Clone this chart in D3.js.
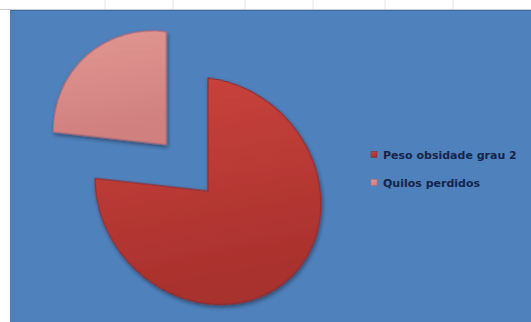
<!DOCTYPE html>
<html><head><meta charset="utf-8">
<script src="https://cdn.jsdelivr.net/npm/d3@7"></script>
<style>html,body{margin:0;padding:0;background:#fff;}svg{display:block;}</style>
</head><body>
<svg id="c" width="531" height="322"></svg>
<script>
const categories = ["Peso obsidade grau 2", "Quilos perdidos"];
const values = [75, 25];
const explode = [0, 59];

const svg = d3.select("#c");
const W = 531, H = 322;
const defs = svg.append("defs");

function grad(id, c1, c2) {
  const g = defs.append("linearGradient").attr("id", id)
    .attr("x1", 0).attr("y1", 0).attr("x2", 0.3).attr("y2", 1);
  g.append("stop").attr("offset", "0%").attr("stop-color", c1);
  g.append("stop").attr("offset", "100%").attr("stop-color", c2);
}
grad("g0", "#cc453e", "#a8302d");
grad("g1", "#e39a94", "#d0807f");
const sh = defs.append("filter").attr("id", "sh").attr("x", "-20%").attr("y", "-20%").attr("width", "140%").attr("height", "140%");
sh.append("feGaussianBlur").attr("in", "SourceAlpha").attr("stdDeviation", 2);
sh.append("feOffset").attr("dx", 1).attr("dy", 2).attr("result", "b");
sh.append("feComponentTransfer").append("feFuncA").attr("type", "linear").attr("slope", 0.45);
const fm = sh.append("feMerge");
fm.append("feMergeNode");
fm.append("feMergeNode").attr("in", "SourceGraphic");

// spreadsheet strip
svg.append("rect").attr("x", 0).attr("y", 0).attr("width", W).attr("height", H).attr("fill", "#ffffff");
[105, 173, 245, 313, 385, 453].forEach(x => {
  svg.append("line").attr("x1", x).attr("x2", x).attr("y1", 0).attr("y2", 10).attr("stroke", "#e4e6ea");
});
svg.append("line").attr("x1", 0).attr("x2", W).attr("y1", 9.5).attr("y2", 9.5).attr("stroke", "#c9ccd2");
// chart area
svg.append("rect").attr("x", 10).attr("y", 10).attr("width", W - 10).attr("height", H - 10).attr("fill", "#4f81bd");
svg.append("line").attr("x1", 10).attr("x2", W).attr("y1", 10.5).attr("y2", 10.5).attr("stroke", "#3d6a9f");

const cx = 208, cy = 191, r = 113;
const pie = d3.pie().sort(null).value(d => d)(values);
const arc = d3.arc().innerRadius(0).outerRadius(r);
const g = svg.append("g").attr("transform", `translate(${cx},${cy}) skewY(6.4)`);
g.selectAll("path").data(pie).join("path")
  .attr("transform", (d, i) => {
    const a = (d.startAngle + d.endAngle) / 2;
    return `translate(${explode[i] * Math.sin(a)},${-explode[i] * Math.cos(a)})`;
  })
  .attr("d", arc)
  .attr("fill", (d, i) => `url(#g${i})`)
  .attr("stroke", (d, i) => i === 0 ? "#8a2a2e" : "#b86a72")
  .attr("stroke-width", 1)
  .attr("filter", "url(#sh)");

// legend
const lg = svg.append("g").attr("transform", "translate(371,155)");
const items = lg.selectAll("g").data(categories).join("g")
  .attr("transform", (d, i) => `translate(0,${i * 28})`);
items.append("rect").attr("x", 0).attr("y", -3.5).attr("width", 6).attr("height", 6)
  .attr("fill", (d, i) => `url(#g${i})`).attr("stroke", (d, i) => i === 0 ? "#8a2a2e" : "#b86a72").attr("stroke-width", 0.5);
items.append("text").attr("x", 12).attr("y", 0).attr("dy", "0.35em")
  .attr("font-family", "DejaVu Sans, sans-serif").attr("font-weight", "bold").attr("font-size", "11px")
  .attr("fill", "#16244a").text(d => d);
</script>
</body></html>
